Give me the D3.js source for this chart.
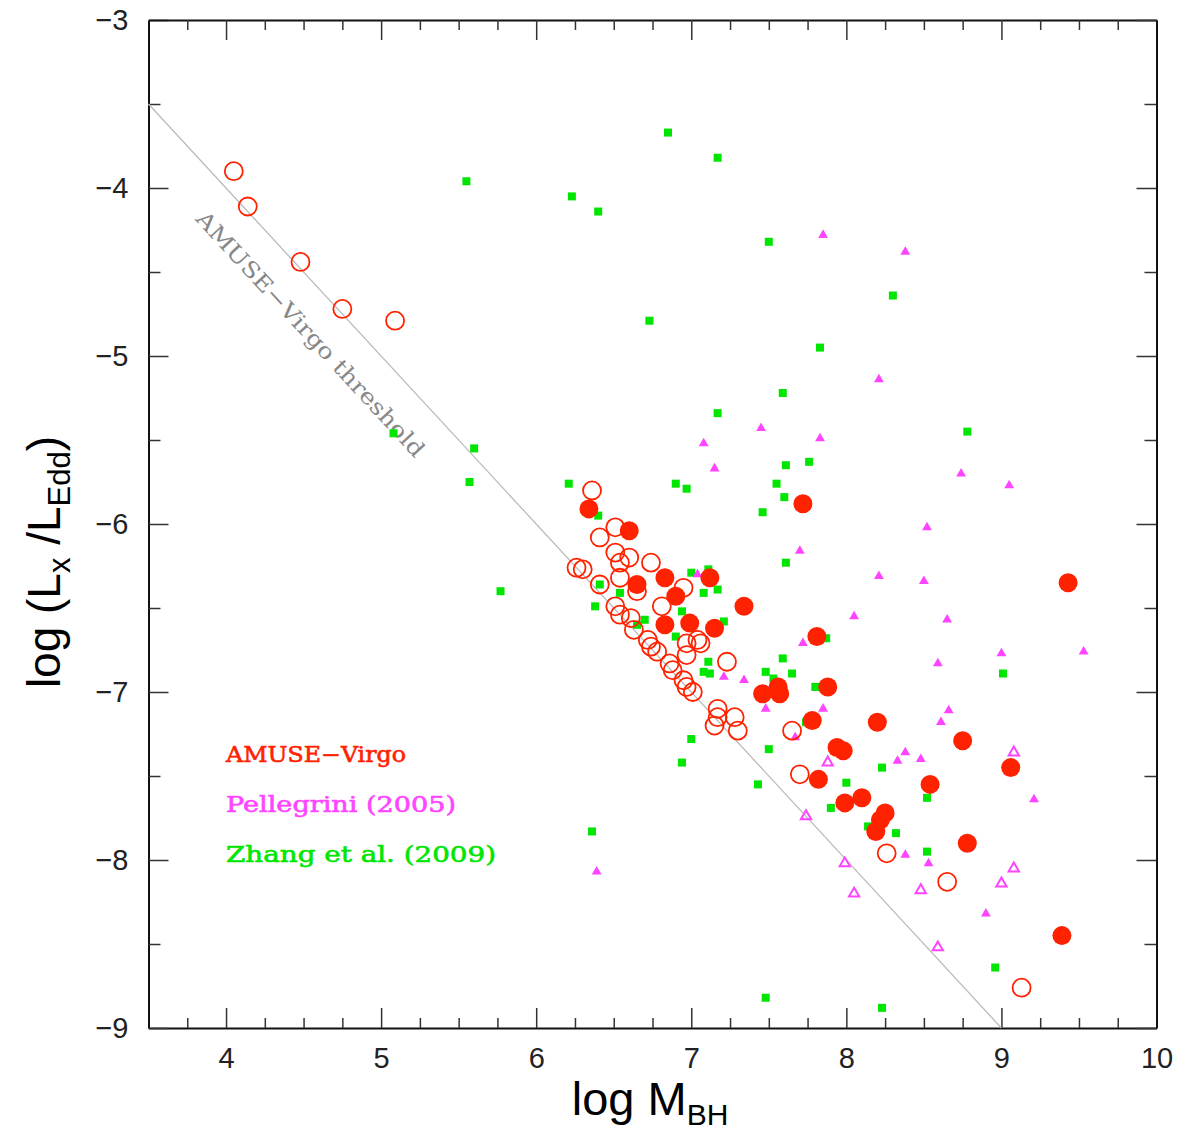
<!DOCTYPE html>
<html>
<head>
<meta charset="utf-8">
<script src="https://d3js.org/d3.v7.min.js"></script>
<style>
  body { margin: 0; background: #fff; }
  .tick text { font-family: "Liberation Sans", Arial, sans-serif; font-size: 29px; fill: #222; }
  .domain { stroke: #111; stroke-width: 2px; }
  .tick line { stroke: #333; stroke-width: 1.5px; }
  .lbl { font-family: "DejaVu Serif", serif; font-size: 22px; }
  .title { font-family: "Liberation Sans", Arial, sans-serif; fill: #000; }
</style>
</head>
<body>
<script>
// [log M_BH, log(Lx/LEdd)]
var amuseDetected = [
  [6.34,-5.91],[6.60,-6.04],[6.83,-6.32],[6.65,-6.36],[7.12,-6.32],[6.90,-6.43],
  [7.34,-6.49],[6.83,-6.60],[6.99,-6.59],[7.15,-6.62],[7.72,-5.88],[7.81,-6.67],
  [7.88,-6.97],[7.46,-7.01],[7.56,-6.97],[7.57,-7.01],[7.78,-7.17],[8.20,-7.18],
  [8.75,-7.29],[7.94,-7.33],[7.98,-7.35],[7.82,-7.52],[8.54,-7.55],[8.10,-7.63],
  [7.99,-7.66],[8.25,-7.72],[8.22,-7.76],[8.19,-7.83],[8.78,-7.90],[9.06,-7.45],
  [9.43,-6.35],[9.39,-8.45]
];
var amuseLimits = [
  [4.05,-3.90],[4.14,-4.11],[4.48,-4.44],[4.75,-4.72],[5.09,-4.79],[6.36,-5.80],
  [6.51,-6.02],[6.41,-6.08],[6.51,-6.17],[6.60,-6.20],[6.74,-6.23],[6.54,-6.23],
  [6.26,-6.26],[6.30,-6.27],[6.54,-6.32],[6.41,-6.36],[6.65,-6.40],[6.95,-6.38],
  [6.81,-6.49],[6.51,-6.49],[6.54,-6.54],[6.61,-6.56],[6.63,-6.63],[6.72,-6.69],
  [6.74,-6.73],[6.78,-6.76],[6.97,-6.71],[7.04,-6.69],[7.06,-6.71],[6.97,-6.78],
  [6.86,-6.83],[6.88,-6.87],[6.95,-6.93],[6.97,-6.97],[7.01,-7.00],[7.23,-6.82],
  [7.17,-7.10],[7.17,-7.15],[7.15,-7.20],[7.28,-7.15],[7.30,-7.23],[7.65,-7.23],
  [7.70,-7.49],[8.26,-7.96],[8.65,-8.13],[9.13,-8.76]
];
var pellegriniDet = [
  [7.85,-4.28],[8.38,-4.38],[8.21,-5.14],[7.45,-5.43],[7.83,-5.49],[7.08,-5.52],
  [7.15,-5.67],[8.74,-5.70],[9.05,-5.77],[8.52,-6.02],[7.70,-6.16],[8.21,-6.31],
  [8.50,-6.34],[7.04,-6.30],[8.05,-6.55],[8.65,-6.57],[7.72,-6.71],[9.00,-6.77],
  [9.53,-6.76],[8.59,-6.83],[7.21,-6.91],[7.34,-6.93],[7.48,-7.10],[7.85,-7.10],
  [8.66,-7.11],[8.61,-7.18],[7.67,-7.27],[8.38,-7.36],[8.33,-7.41],[8.48,-7.40],
  [9.21,-7.64],[8.38,-7.97],[8.53,-8.02],[8.90,-8.32],[6.39,-8.07]
];
var pellegriniLim = [
  [7.88,-7.42],[7.74,-7.74],[7.99,-8.02],[8.05,-8.20],[8.48,-8.18],[8.59,-8.52],
  [9.08,-8.05],[9.00,-8.14],[9.08,-7.36]
];
var zhang = [
  [5.55,-3.96],[6.23,-4.05],[6.40,-4.14],[6.85,-3.67],[7.17,-3.82],[7.50,-4.32],
  [8.30,-4.64],[6.73,-4.79],[7.83,-4.95],[7.59,-5.22],[7.17,-5.34],[8.78,-5.45],
  [5.08,-5.46],[5.60,-5.55],[7.61,-5.65],[7.76,-5.63],[5.57,-5.75],[6.21,-5.76],
  [6.90,-5.76],[6.97,-5.79],[7.55,-5.76],[7.60,-5.84],[7.46,-5.93],[6.40,-5.95],
  [7.61,-6.23],[5.77,-6.40],[6.41,-6.36],[6.38,-6.49],[6.54,-6.41],[7.00,-6.29],
  [7.11,-6.27],[7.17,-6.39],[7.08,-6.41],[6.94,-6.52],[7.21,-6.58],[6.90,-6.67],
  [6.70,-6.57],[6.65,-6.60],[7.87,-6.68],[7.11,-6.82],[7.08,-6.88],[7.12,-6.89],
  [7.59,-6.80],[7.48,-6.88],[7.65,-6.89],[7.53,-6.92],[7.80,-6.97],[7.74,-7.18],
  [7.00,-7.28],[6.94,-7.42],[7.50,-7.34],[7.43,-7.55],[8.00,-7.54],[8.23,-7.45],
  [8.52,-7.63],[7.90,-7.69],[8.14,-7.80],[8.32,-7.84],[8.52,-7.95],[9.01,-6.89],
  [6.36,-7.83],[8.96,-8.64],[7.48,-8.82],[8.23,-8.88]
];
var xMajor = [4, 5, 6, 7, 8, 9, 10];
var yMajor = [-3, -4, -5, -6, -7, -8, -9];
var legendNames = ["AMUSE\u2212Virgo", "Pellegrini (2005)", "Zhang et al. (2009)"];

var RED = "#ff2200", MAG = "#ff44ff", GRN = "#00e600";

var svg = d3.select("body").append("svg")
  .attr("width", 1180).attr("height", 1136);

var x = d3.scaleLinear().domain([3.5, 10]).range([148.5, 1156.5]);
var y = d3.scaleLinear().domain([-3, -9]).range([20, 1028]);

var xMinor = d3.range(3.75, 10, 0.25).filter(function(d) { return d % 1 !== 0; });
var yMinor = d3.range(-3.5, -9, -1);
var fmt = function(d) { return d < 0 ? "\u2212" + Math.abs(d) : d; };

// major axes with labels
svg.append("g").attr("transform", "translate(0,1028)")
  .call(d3.axisBottom(x).tickValues(xMajor).tickSize(-20).tickSizeOuter(0).tickPadding(19).tickFormat(fmt));
svg.append("g").attr("transform", "translate(148.5,0)")
  .call(d3.axisLeft(y).tickValues(yMajor).tickSize(-20).tickSizeOuter(0).tickPadding(20).tickFormat(fmt));
svg.append("g").attr("transform", "translate(0,20)")
  .call(d3.axisTop(x).tickValues(xMajor).tickSize(-20).tickSizeOuter(0).tickFormat(""));
svg.append("g").attr("transform", "translate(1156.5,0)")
  .call(d3.axisRight(y).tickValues(yMajor).tickSize(-20).tickSizeOuter(0).tickFormat(""));

// minor ticks
function minor(g) { g.select(".domain").remove(); }
svg.append("g").attr("transform", "translate(0,1028)")
  .call(d3.axisBottom(x).tickValues(xMinor).tickSize(-10).tickFormat("")).call(minor);
svg.append("g").attr("transform", "translate(0,20)")
  .call(d3.axisTop(x).tickValues(xMinor).tickSize(-10).tickFormat("")).call(minor);
svg.append("g").attr("transform", "translate(148.5,0)")
  .call(d3.axisLeft(y).tickValues(yMinor).tickSize(-12).tickFormat("")).call(minor);
svg.append("g").attr("transform", "translate(1156.5,0)")
  .call(d3.axisRight(y).tickValues(yMinor).tickSize(-12).tickFormat("")).call(minor);

// threshold line: log(Lx/LEdd) = -log M
svg.append("line")
  .attr("x1", x(3.5)).attr("y1", y(-3.5))
  .attr("x2", x(9)).attr("y2", y(-9))
  .attr("stroke", "#bbb").attr("stroke-width", 1.3);

var ang = Math.atan2(y(-9) - y(-3.5), x(9) - x(3.5)) * 180 / Math.PI;
svg.append("text").attr("class", "lbl")
  .attr("transform", "translate(" + x(4.72) + "," + y(-4.72) + ") rotate(" + ang + ")")
  .attr("y", 37).attr("dy", "0.35em")
  .attr("text-anchor", "middle")
  .attr("textLength", 325).attr("lengthAdjust", "spacingAndGlyphs")
  .attr("fill", "#888")
  .text("AMUSE\u2212Virgo threshold");

// Zhang et al. squares
svg.append("g").selectAll("rect").data(zhang).join("rect")
  .attr("x", function(d) { return x(d[0]) - 4; })
  .attr("y", function(d) { return y(d[1]) - 4; })
  .attr("width", 8).attr("height", 8)
  .attr("fill", GRN);

// Pellegrini triangles
var tri = d3.symbol().type(d3.symbolTriangle);
svg.append("g").selectAll("path").data(pellegriniDet).join("path")
  .attr("transform", function(d) { return "translate(" + x(d[0]) + "," + y(d[1]) + ")"; })
  .attr("d", tri.size(42)())
  .attr("fill", MAG);
svg.append("g").selectAll("path").data(pellegriniLim).join("path")
  .attr("transform", function(d) { return "translate(" + x(d[0]) + "," + y(d[1]) + ")"; })
  .attr("d", tri.size(46)())
  .attr("fill", "none").attr("stroke", MAG).attr("stroke-width", 2);

// AMUSE-Virgo
svg.append("g").selectAll("circle").data(amuseLimits).join("circle")
  .attr("cx", function(d) { return x(d[0]); })
  .attr("cy", function(d) { return y(d[1]); })
  .attr("r", 9)
  .attr("fill", "none").attr("stroke", RED).attr("stroke-width", 1.8);
svg.append("g").selectAll("circle").data(amuseDetected).join("circle")
  .attr("cx", function(d) { return x(d[0]); })
  .attr("cy", function(d) { return y(d[1]); })
  .attr("r", 9.5)
  .attr("fill", RED);

// legend
var legColors = [RED, MAG, GRN];
var legLen = [180, 230, 270];
svg.append("g").selectAll("text").data(legendNames).join("text")
  .attr("class", "lbl")
  .attr("x", x(4.0))
  .attr("y", function(d, i) { return 762 + i * 50; })
  .attr("textLength", function(d, i) { return legLen[i]; })
  .attr("lengthAdjust", "spacingAndGlyphs")
  .attr("fill", function(d, i) { return legColors[i]; })
  .attr("stroke", function(d, i) { return legColors[i]; })
  .attr("stroke-width", 0.6)
  .text(function(d) { return d; });

// axis titles
var xt = svg.append("text").attr("class", "title")
  .attr("x", 650).attr("y", 1115).attr("text-anchor", "middle")
  .style("font-size", "47px");
xt.append("tspan").text("log M");
xt.append("tspan").attr("dy", 10).style("font-size", "30px").text("BH");

var yt = svg.append("text").attr("class", "title")
  .attr("transform", "translate(60,562) rotate(-90)")
  .attr("text-anchor", "middle")
  .style("font-size", "46px");
yt.append("tspan").text("log (L");
yt.append("tspan").attr("dy", 10).style("font-size", "31px").text("x");
yt.append("tspan").attr("dy", -10).text(" /L");
yt.append("tspan").attr("dy", 10).style("font-size", "31px").text("Edd");
yt.append("tspan").attr("dy", -10).text(")");
</script>
</body>
</html>
